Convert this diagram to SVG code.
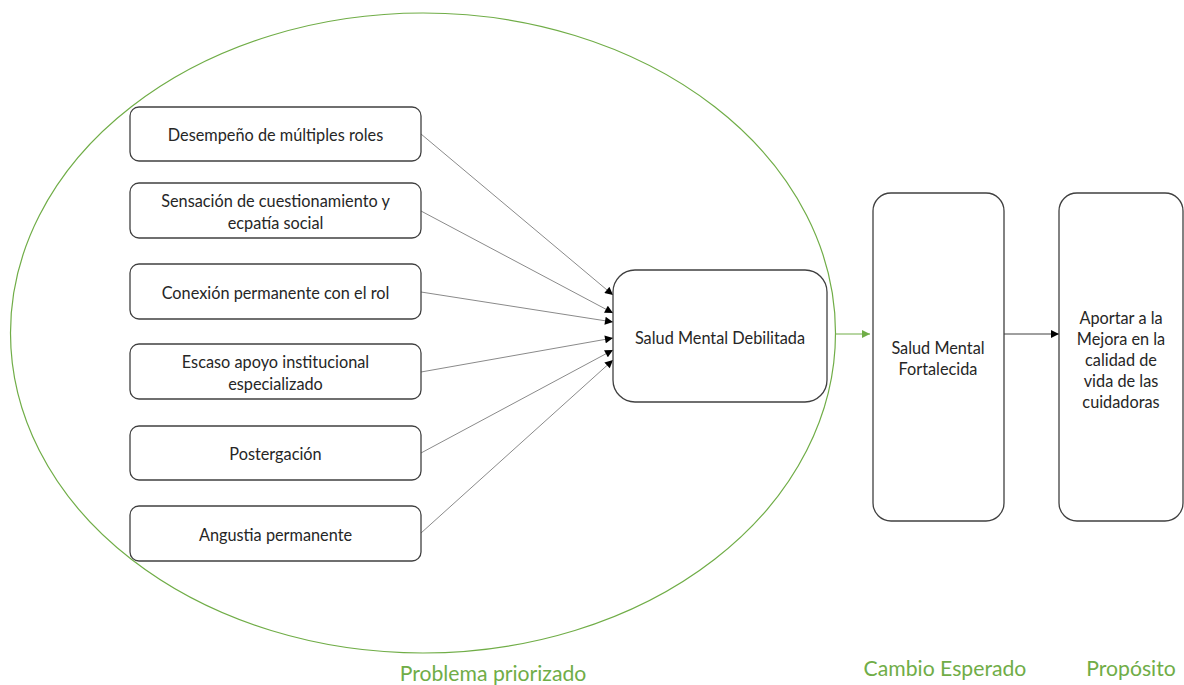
<svg xmlns="http://www.w3.org/2000/svg" width="1184" height="685" viewBox="0 0 1184 685">
  <style>
    .box { fill: #ffffff; stroke: #404040; stroke-width: 1.3; }
    .txt { font-family: Lato, "Liberation Sans", sans-serif; font-size: 16.3px; fill: #262626; text-anchor: middle; dominant-baseline: central; }
    .lbl { font-family: Lato, "Liberation Sans", sans-serif; font-size: 21.2px; fill: #70ad47; text-anchor: middle; }
    .conn { stroke: #8a8a8a; stroke-width: 1; fill: none; marker-end: url(#arrowBlack); }
  </style>
  <defs>
    <marker id="arrowBlack" viewBox="0 0 10 10" refX="10" refY="5" markerWidth="9" markerHeight="8" markerUnits="userSpaceOnUse" orient="auto">
      <path d="M0,0 L10,5 L0,10 z" fill="#000000"/>
    </marker>
    <marker id="arrowGreen" viewBox="0 0 10 10" refX="10" refY="5" markerWidth="9" markerHeight="8" markerUnits="userSpaceOnUse" orient="auto">
      <path d="M0,0 L10,5 L0,10 z" fill="#70ad47"/>
    </marker>
  </defs>
  <rect width="1184" height="685" fill="#ffffff"/>

  <!-- prioritized problem boundary -->
  <ellipse id="problem-area" cx="423" cy="333" rx="412.5" ry="320" fill="none" stroke="#70ad47" stroke-width="1.2"/>

  <g id="connectors">
    <line class="conn" x1="421" y1="134" x2="613" y2="295"/>
    <line class="conn" x1="421" y1="211" x2="613" y2="313"/>
    <line class="conn" x1="421" y1="292" x2="613" y2="322"/>
    <line class="conn" x1="421" y1="372" x2="613" y2="338"/>
    <line class="conn" x1="421" y1="453" x2="613" y2="350"/>
    <line class="conn" x1="421" y1="533" x2="613" y2="360"/>
    <line x1="836" y1="334" x2="870" y2="334" stroke="#70ad47" stroke-width="1" marker-end="url(#arrowGreen)"/>
    <line x1="1004" y1="334" x2="1059" y2="334" stroke="#404040" stroke-width="1" marker-end="url(#arrowBlack)"/>
  </g>

  <g id="cause-roles">
    <rect class="box" x="130" y="107" width="291" height="54" rx="9"/>
    <text class="txt" x="275.5" y="134">Desempeño de múltiples roles</text>
  </g>
  <g id="cause-cuestionamiento">
    <rect class="box" x="130" y="183" width="291" height="55" rx="9"/>
    <text class="txt" x="275.5" y="200">Sensación de cuestionamiento y</text>
    <text class="txt" x="275.5" y="222">ecpatía social</text>
  </g>
  <g id="cause-conexion">
    <rect class="box" x="130" y="264" width="291" height="55" rx="9"/>
    <text class="txt" x="275.5" y="292">Conexión permanente con el rol</text>
  </g>
  <g id="cause-apoyo">
    <rect class="box" x="130" y="344" width="291" height="55" rx="9"/>
    <text class="txt" x="275.5" y="361">Escaso apoyo institucional</text>
    <text class="txt" x="275.5" y="383">especializado</text>
  </g>
  <g id="cause-postergacion">
    <rect class="box" x="130" y="426" width="291" height="54" rx="9"/>
    <text class="txt" x="275.5" y="453">Postergación</text>
  </g>
  <g id="cause-angustia">
    <rect class="box" x="130" y="506" width="291" height="55" rx="9"/>
    <text class="txt" x="275.5" y="534">Angustia permanente</text>
  </g>

  <g id="problem">
    <rect class="box" x="613" y="270" width="214" height="132" rx="22"/>
    <text class="txt" x="720" y="337">Salud Mental Debilitada</text>
  </g>
  <g id="expected-change">
    <rect class="box" x="873" y="193" width="131" height="328" rx="18"/>
    <text class="txt" x="938" y="347">Salud Mental</text>
    <text class="txt" x="938" y="368">Fortalecida</text>
  </g>
  <g id="purpose">
    <rect class="box" x="1059" y="193" width="124" height="328" rx="18"/>
    <text class="txt" x="1121" y="317">Aportar a la</text>
    <text class="txt" x="1121" y="338">Mejora en la</text>
    <text class="txt" x="1121" y="359">calidad de</text>
    <text class="txt" x="1121" y="380">vida de las</text>
    <text class="txt" x="1121" y="401">cuidadoras</text>
  </g>

  <g id="labels">
    <text class="lbl" x="493" y="681">Problema priorizado</text>
    <text class="lbl" x="945" y="676">Cambio Esperado</text>
    <text class="lbl" x="1131" y="676">Propósito</text>
  </g>
</svg>
